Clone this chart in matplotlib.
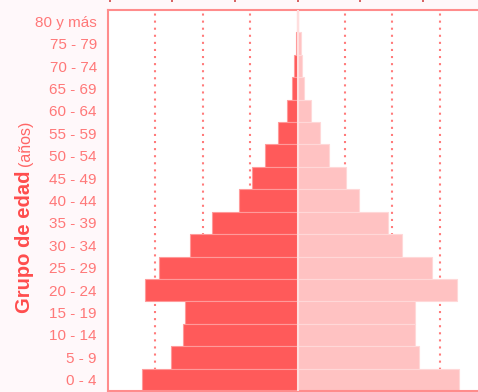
import matplotlib
matplotlib.use("Agg")
import matplotlib.pyplot as plt

# Grupos de edad, de mayor a menor como se leen de arriba abajo
grupos = ["80 y más", "75 - 79", "70 - 74", "65 - 69", "60 - 64", "55 - 59",
          "50 - 54", "45 - 49", "40 - 44", "35 - 39", "30 - 34", "25 - 29",
          "20 - 24", "15 - 19", "10 - 14", "5 - 9", "0 - 4"]

# Porcentaje de la población por grupo (lado izquierdo y derecho)
izquierda = [0.03, 0.08, 0.16, 0.23, 0.43, 0.83, 1.37, 1.94, 2.48, 3.61,
             4.52, 5.84, 6.42, 4.76, 4.84, 5.33, 6.58]
derecha = [0.04, 0.15, 0.20, 0.28, 0.57, 0.97, 1.35, 2.06, 2.61, 3.80,
           4.42, 5.66, 6.73, 4.94, 4.94, 5.14, 6.82]

rejilla = [-6, -4, -2, 2, 4, 6]
marcas_sup = [-7.92, -5.28, -2.64, 0, 2.64, 5.28]

W, H = 478, 392
fig = plt.figure(figsize=(W / 100, H / 100), dpi=100, facecolor="#fff8fa")
ax = fig.add_axes([108 / W, 1 / H, 379 / W, 381 / H])
ax.set_facecolor("white")

y = list(range(len(grupos)))[::-1]

for g in rejilla:
    ax.axvline(g, color="#ff7b7b", lw=1.5, linestyle=(0, (1, 2.4)), zorder=1)

ax.barh(y, [-v for v in izquierda], height=1.0, color="#ff5a5a",
        edgecolor="#ff9a9a", linewidth=0.8, zorder=2)
ax.barh(y, derecha, height=1.0, color="#ffc2c2",
        edgecolor="#ffd8d8", linewidth=0.8, zorder=2)
ax.axvline(0, color="#ffdede", lw=1.5, zorder=3)

ax.set_xlim(-8, 8)
ax.set_ylim(-0.5, len(grupos) - 0.5)
ax.set_yticks(y)
ax.set_yticklabels(grupos, fontsize=11, color="#ff7878",
                   family=["Liberation Sans", "DejaVu Sans"])
ax.tick_params(axis="y", length=0, pad=8)
ax.set_xticks([])

for s in ["top", "left", "bottom"]:
    ax.spines[s].set_color("#ff8c8c")
    ax.spines[s].set_linewidth(1.5)
ax.spines["right"].set_visible(False)

# Marcas del eje superior
sec = ax.secondary_xaxis(1 + 12 / 381)
sec.set_xticks(marcas_sup)
sec.set_xticklabels([])
sec.tick_params(direction="in", length=3, width=1.2, color="#d04848")
sec.spines["top"].set_visible(False)

# Título del eje vertical: parte en negrita seguida de las unidades
fuente = ["Liberation Sans", "DejaVu Sans"]
t1 = fig.text(25 / W, 1 - 313 / H, "Grupo de edad", rotation=90, ha="center",
              va="bottom", fontsize=14.5, fontweight="bold", color="#ff4d4d",
              family=fuente)
fig.canvas.draw()
caja = t1.get_window_extent()
fig.text(25 / W, (caja.y1 + 5) / H, "(años)", rotation=90, ha="center",
         va="bottom", fontsize=11.5, color="#ff6666", family=fuente)

fig.savefig("out.png", dpi=100, facecolor=fig.get_facecolor())
